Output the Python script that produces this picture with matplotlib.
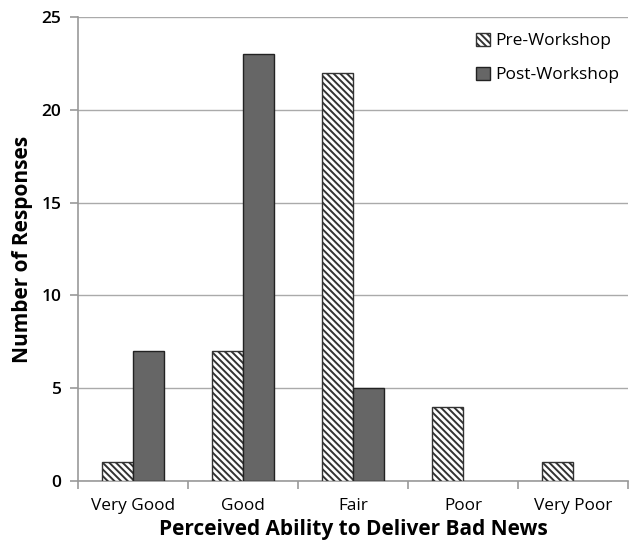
import matplotlib
matplotlib.use("Agg")
import matplotlib.pyplot as plt
import numpy as np

categories = ["Very Good", "Good", "Fair", "Poor", "Very Poor"]
pre_workshop = [1, 7, 22, 4, 1]
post_workshop = [7, 23, 5, 0, 0]

plt.rcParams['font.family'] = ['Open Sans', 'DejaVu Sans']
plt.rcParams['hatch.linewidth'] = 1.4
plt.rcParams['hatch.color'] = '#333333'

fig = plt.figure(figsize=(6.3, 5.49), dpi=100)
ax = fig.add_axes([0.124, 0.124, 0.873, 0.845])

x = np.arange(len(categories))
w = 0.28
ax.bar(x - w/2, pre_workshop, w, color="white", edgecolor="#333333",
       hatch="\\" * 5, linewidth=1.0, label="Pre-Workshop", zorder=3)
post_lw = [1.0 if v > 0 else 0.0 for v in post_workshop]
ax.bar(x + w/2, post_workshop, w, color="#666666", edgecolor="#222222",
       linewidth=post_lw, label="Post-Workshop", zorder=3)

ax.set_xlim(-0.5, len(categories) - 0.5)
ax.set_ylim(0, 25)
ax.set_yticks([0, 5, 10, 15, 20, 25])
ax.yaxis.grid(True, color="#aaaaaa", linewidth=1.0, zorder=0)
ax.set_axisbelow(True)

ax.set_xticks(x)
ax.set_xticklabels(categories, fontsize=12.4)
ax.tick_params(axis='x', length=0, pad=12)
ax.set_xticks(np.arange(-0.5, len(categories)), minor=True)
ax.tick_params(axis='x', which='minor', length=6, color="#999999", width=1.2)
ax.tick_params(axis='y', length=6, color="#999999", width=1.2, labelsize=12.5, pad=6)
for lbl in ax.get_yticklabels():
    lbl.set_fontweight('semibold')

for s in ["top", "right"]:
    ax.spines[s].set_visible(False)
for s in ["left", "bottom"]:
    ax.spines[s].set_color("#999999")
    ax.spines[s].set_linewidth(1.2)

ax.set_ylabel("Number of Responses", fontsize=15, fontweight='bold', labelpad=6)
ax.set_xlabel("Perceived Ability to Deliver Bad News", fontsize=15, fontweight='bold', labelpad=4)

leg = ax.legend(loc="upper right", frameon=False, fontsize=12.5,
                handlelength=0.8, handleheight=0.8, handletextpad=0.3,
                labelspacing=1.0, bbox_to_anchor=(1.012, 1.0))

fig.savefig("out.png", dpi=100)
